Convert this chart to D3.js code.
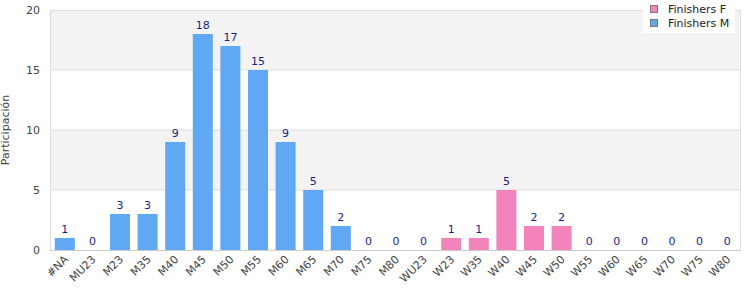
<!DOCTYPE html>
<html>
<head>
<meta charset="utf-8">
<script src="https://cdn.jsdelivr.net/npm/d3@7"></script>
<style>
  body { margin: 0; background: #fff; }
  text { font-family: "DejaVu Sans", sans-serif; }
</style>
</head>
<body>
<div id="canvas"></div>
<script>
const categories = ["#NA", "MU23", "M23", "M35", "M40", "M45", "M50", "M55", "M60", "M65", "M70", "M75", "M80",
  "WU23", "W23", "W35", "W40", "W45", "W50", "W55", "W60", "W65", "W70", "W75", "W80"];
const finishersM = [1, 0, 3, 3, 9, 18, 17, 15, 9, 5, 2, 0, 0, 0, 0, 0, 0, 0, 0, 0, 0, 0, 0, 0, 0];
const finishersF = [0, 0, 0, 0, 0, 0, 0, 0, 0, 0, 0, 0, 0, 0, 1, 1, 5, 2, 2, 0, 0, 0, 0, 0, 0];
const yTicks = [0, 5, 10, 15, 20];
const seriesNames = ["Finishers F", "Finishers M"];
const colors = { "Finishers F": "#f283bb", "Finishers M": "#60a8f4" };

const width = 750;
const height = 300;
const margin = { top: 10, right: 9, bottom: 50, left: 51 };
const inWidth = width - margin.left - margin.right;
const inHeight = height - margin.top - margin.bottom;

const svg = d3.select("#canvas").append("svg")
  .attr("width", width)
  .attr("height", height);

const data = categories.map((c, i) => ({ name: c, m: finishersM[i], f: finishersF[i] }));

const xScale = d3.scaleBand().domain(categories).range([0, inWidth]).paddingInner(0.275).paddingOuter(0.1375);
const yScale = d3.scaleLinear().domain([0, 20]).range([inHeight, 0]);

const g = svg.append("g").attr("transform", `translate(${margin.left},${margin.top})`);

// alternating bands
const bands = d3.pairs(yTicks).filter((d, i) => i % 2 === 1);
g.selectAll("rect.band").data(bands).enter().append("rect")
  .attr("class", "band")
  .attr("x", 0)
  .attr("width", inWidth)
  .attr("y", d => yScale(d[1]))
  .attr("height", d => yScale(d[0]) - yScale(d[1]))
  .attr("fill", "#f3f3f3");

// grid lines
g.selectAll("line.grid").data(yTicks.slice(1, -1)).enter().append("line")
  .attr("x1", 0).attr("x2", inWidth)
  .attr("y1", d => yScale(d)).attr("y2", d => yScale(d))
  .attr("stroke", "#dddddd");

// plot border
g.append("rect")
  .attr("x", -0.5).attr("y", 0.5)
  .attr("width", inWidth).attr("height", inHeight)
  .attr("fill", "none")
  .attr("stroke", "#dddddd");

// bars
g.selectAll("rect.m").data(data).enter().append("rect")
  .attr("x", d => xScale(d.name))
  .attr("width", xScale.bandwidth())
  .attr("y", d => yScale(d.m))
  .attr("height", d => yScale(0) - yScale(d.m))
  .attr("fill", colors["Finishers M"]);

g.selectAll("rect.f").data(data).enter().append("rect")
  .attr("x", d => xScale(d.name))
  .attr("width", xScale.bandwidth())
  .attr("y", d => yScale(d.f))
  .attr("height", d => yScale(0) - yScale(d.f))
  .attr("fill", colors["Finishers F"]);

// value labels
g.selectAll("text.val").data(data).enter().append("text")
  .attr("x", d => xScale(d.name) + xScale.bandwidth() / 2)
  .attr("y", d => yScale(d.m + d.f) - 5)
  .attr("text-anchor", "middle")
  .attr("font-size", 11)
  .attr("fill", "#1c1c8a")
  .text(d => d.m + d.f);

// y axis
const yAxis = g.append("g").call(d3.axisLeft(yScale).tickValues(yTicks).tickSize(0).tickPadding(11));
yAxis.select(".domain").remove();
yAxis.selectAll("text").attr("font-size", 11).attr("fill", "#444").attr("font-family", "DejaVu Sans, sans-serif");

// x axis
const xAxis = g.append("g").attr("transform", `translate(0,${inHeight})`)
  .call(d3.axisBottom(xScale).tickSize(0));
xAxis.select(".domain").attr("stroke", "#cccccc").attr("d", `M-1,0.5H${inWidth}`);
xAxis.selectAll("text")
  .attr("font-size", 11)
  .attr("fill", "#444")
  .attr("font-family", "DejaVu Sans, sans-serif")
  .attr("text-anchor", "end")
  .attr("dy", null)
  .attr("y", 0)
  .attr("transform", "translate(4,10) rotate(-45)");

// y title
svg.append("text")
  .attr("transform", `translate(9,${margin.top + inHeight / 2}) rotate(-90)`)
  .attr("text-anchor", "middle")
  .attr("font-size", 11)
  .attr("fill", "#444")
  .text("Participación");

// legend
const legend = svg.append("g").attr("transform", "translate(643,0)");
legend.append("rect").attr("width", 92).attr("height", 33).attr("fill", "#fff");
seriesNames.forEach((s, i) => {
  const row = legend.append("g").attr("transform", `translate(0,${9 + i * 14})`);
  row.append("rect").attr("x", 7.5).attr("y", -3.5).attr("width", 7).attr("height", 7)
    .attr("fill", colors[s]).attr("stroke", "#777");
  row.append("text").attr("x", 25).attr("y", 4).attr("font-size", 11).attr("fill", "#222").text(s);
});
</script>
</body>
</html>
